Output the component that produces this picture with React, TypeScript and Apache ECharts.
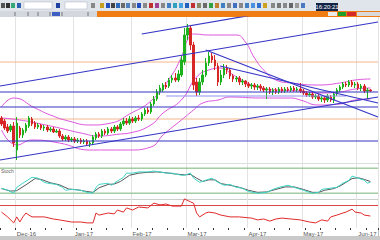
import React, { useEffect, useRef } from "react";
import * as echarts from "echarts";

// ---------- data ----------
const categoryCount = 124;
const tickIndex = [5, 24, 43, 61, 81, 99, 117];
const tickLabels = ["Dec-16", "Jan-17", "Feb-17", "Mar-17", "Apr-17", "May-17", "Jun-17"];

// [open, close, low, high]
const ohlc = [
  [82, 76, 74, 84], [79, 72, 70, 81], [73, 69, 67, 76], [70, 74, 68, 76], [74, 57, 53, 78],
  [50, 77, 40, 83], [72, 65, 62, 74], [65, 70, 62, 72], [69, 75, 67, 77], [74, 82, 72, 84],
  [81, 76, 74, 83], [77, 73, 71, 79], [73, 75, 71, 77], [75, 72, 70, 76], [72, 73, 69, 75],
  [73, 70, 68, 75], [70, 71, 68, 73], [71, 68, 67, 73], [68, 69, 67, 71], [69, 64, 62, 71],
  [64, 61, 59, 66], [61, 63, 59, 65], [63, 60, 58, 65], [60, 61, 58, 63], [61, 59, 57, 63],
  [59, 60, 57, 62], [60, 58, 56, 62], [58, 59, 56, 61], [59, 56, 54, 61], [56, 57, 53, 59],
  [57, 63, 55, 65], [62, 66, 60, 68], [66, 64, 62, 68], [64, 69, 62, 71], [69, 67, 65, 71],
  [67, 71, 65, 73], [71, 69, 67, 73], [69, 73, 67, 75], [73, 71, 69, 75], [71, 76, 69, 78],
  [76, 79, 74, 82], [79, 77, 75, 82], [77, 81, 75, 84], [81, 79, 77, 83], [79, 82, 77, 84],
  [82, 81, 79, 85], [81, 86, 79, 88], [86, 90, 84, 92], [90, 88, 86, 93], [88, 96, 86, 98],
  [96, 101, 94, 104], [101, 108, 99, 111], [108, 112, 105, 115], [110, 115, 108, 117], [115, 113, 111, 118],
  [114, 120, 112, 122], [120, 122, 117, 125], [122, 120, 118, 127], [120, 126, 118, 130], [125, 140, 123, 144],
  [138, 165, 135, 172], [165, 172, 160, 176], [172, 155, 150, 174], [155, 115, 110, 158], [118, 108, 104, 122],
  [108, 118, 105, 122], [118, 125, 115, 130], [125, 137, 123, 142], [137, 144, 134, 148], [144, 140, 137, 147],
  [140, 134, 130, 145], [134, 118, 114, 137], [118, 125, 115, 130], [125, 132, 122, 136], [132, 130, 126, 135],
  [130, 124, 121, 132], [124, 121, 118, 126], [121, 122, 118, 124], [122, 118, 115, 124], [118, 119, 115, 121],
  [119, 116, 113, 120], [116, 114, 112, 118], [114, 115, 111, 117], [115, 113, 110, 117], [113, 114, 110, 116],
  [114, 112, 109, 116], [112, 110, 108, 114], [110, 111, 101, 113], [111, 108, 106, 113], [108, 110, 105, 112],
  [110, 108, 106, 112], [108, 111, 106, 113], [111, 109, 107, 113], [109, 111, 107, 113], [111, 110, 108, 113],
  [110, 112, 108, 114], [112, 110, 108, 114], [110, 111, 108, 113], [111, 109, 107, 117], [109, 107, 105, 111],
  [107, 105, 103, 109], [105, 106, 103, 108], [106, 103, 101, 108], [103, 104, 101, 106], [104, 101, 99, 106],
  [101, 102, 98, 104], [102, 100, 97, 104], [100, 104, 98, 106], [103, 100, 98, 105], [100, 106, 97, 108],
  [106, 110, 104, 112], [110, 113, 108, 115], [113, 116, 111, 118], [116, 115, 113, 118], [115, 118, 113, 120],
  [118, 115, 113, 120], [115, 116, 112, 118], [116, 112, 110, 118], [112, 114, 109, 116], [114, 109, 107, 116],
  [109, 110, 101, 112], [110, 109, 108, 111],
];

// Bollinger bands: [bar index, price]
const bollUpper = [
  [0, 93], [4, 102], [11, 92], [16, 85], [22, 79], [29, 75], [36, 77], [42, 86], [49, 99], [55, 121],
  [59, 143], [61, 160], [63, 166], [68, 165], [77, 165], [80, 158], [83, 142], [86, 130], [90, 120],
  [95, 117], [104, 115], [111, 117], [116, 120], [121, 121],
];
const bollMiddle = [
  [0, 82], [6, 80], [13, 76], [19, 72], [26, 67], [32, 64], [39, 66], [42, 67], [49, 75], [53, 87],
  [59, 100], [64, 123], [68, 130], [72, 132], [75, 127], [80, 118], [85, 112], [91, 110], [98, 109],
  [104, 107], [111, 108], [116, 111], [121, 112],
];
const bollLower = [
  [0, 70], [5, 55], [10, 60], [19, 57], [29, 50], [36, 50], [42, 50], [49, 53], [53, 65], [59, 80],
  [63, 90], [66, 97], [71, 100], [75, 103], [85, 102], [95, 102], [98, 100], [104, 95], [111, 96],
  [116, 100], [121, 101],
];

// drawn trend lines: [[bar index, price], [bar index, price]]
const blueLines = [
  [[-0.5, 114], [123.5, 178]],
  [[46, 166], [90, 189]],
  [[-0.5, 40], [123.5, 103]],
  [[-0.5, 108], [123.5, 108]],
  [[-0.5, 93], [123.5, 93]],
  [[-0.5, 59], [123.5, 59]],
  [[67, 150], [123.5, 83]],
  [[71.7, 134], [123.5, 97]],
];
const lightBlueLines = [[[54, 104], [113, 104]]];
const orangeLevels = [138, 81];

// Stochastic
const stochK = [
  [0, 32], [2, 27], [4, 20], [5, 34], [7, 44], [10, 58], [12, 56], [14, 46], [15, 44], [18, 41],
  [20, 34], [21, 27], [23, 29], [26, 27], [28, 22], [30, 20], [31, 34], [32, 41], [35, 44], [36, 39],
  [38, 49], [40, 58], [41, 68], [43, 68], [45, 71], [48, 71], [50, 73], [52, 71], [54, 68], [56, 68],
  [59, 63], [60, 63], [62, 68], [63, 56], [65, 46], [67, 51], [69, 56], [71, 46], [73, 39], [75, 41],
  [77, 34], [79, 32], [81, 24], [84, 20], [87, 22], [89, 29], [91, 34], [94, 39], [96, 34], [99, 27],
  [101, 22], [102, 20], [104, 22], [105, 29], [108, 32], [110, 34], [112, 44], [114, 51], [115, 61],
  [117, 56], [119, 51], [120, 44], [121, 46],
];
const stochD = [
  [0, 31], [3, 25], [5, 26], [8, 40], [11, 55], [13, 53], [16, 45], [19, 40], [22, 30], [25, 28],
  [28, 24], [30, 22], [32, 33], [35, 41], [37, 42], [39, 48], [42, 63], [45, 68], [48, 70], [51, 71],
  [54, 69], [57, 66], [60, 64], [62, 65], [64, 56], [66, 48], [68, 52], [70, 52], [72, 43], [75, 39],
  [78, 34], [81, 27], [84, 22], [87, 23], [90, 29], [93, 35], [96, 35], [99, 29], [102, 22], [104, 22],
  [106, 27], [109, 31], [111, 37], [113, 46], [115, 55], [117, 57], [119, 53], [121, 48],
];
const stochLevels = [80, 20];

// RSI
const rsi = [
  [0, 53], [2, 37], [4, 17], [5, 37], [6, 20], [7, 37], [8, 50], [9, 43], [10, 37], [14, 37],
  [17, 30], [19, 27], [23, 20], [26, 20], [28, 17], [30, 17], [31, 50], [32, 43], [35, 50], [37, 47],
  [38, 60], [40, 53], [41, 67], [43, 60], [45, 70], [48, 67], [50, 83], [52, 77], [54, 80], [56, 73],
  [59, 73], [60, 97], [62, 87], [63, 83], [64, 50], [65, 37], [67, 50], [68, 53], [70, 50], [72, 43],
  [75, 37], [78, 37], [82, 33], [84, 27], [86, 30], [88, 23], [90, 30], [92, 33], [95, 30], [98, 27],
  [101, 20], [103, 17], [105, 27], [107, 23], [108, 37], [110, 43], [112, 50], [113, 53], [115, 63],
  [116, 53], [118, 50], [119, 43], [121, 40],
];
const rsiLevel = 75;

// ---------- component ----------
export default function App() {
  const ref = useRef<HTMLDivElement>(null);

  useEffect(() => {
    const el = ref.current as HTMLDivElement;
    const chart = echarts.init(el, null, { renderer: "svg" });
    const categories = Array.from({ length: categoryCount }, (_, i) => String(i));
    const isTick = (i: number) => tickIndex.includes(i);
    const full = (v: number) => [[-0.5, v], [categoryCount - 0.5, v]];

    const line = (data: any, color: string, width: number, xi: number, yi: number, z: number, smooth = false) => ({
      type: "line",
      xAxisIndex: xi,
      yAxisIndex: yi,
      data,
      symbol: "none",
      silent: true,
      smooth,
      lineStyle: { color, width },
      z,
    });

    const catAxis = (gridIndex: number, labels: boolean) => ({
      type: "category",
      gridIndex,
      data: categories,
      boundaryGap: true,
      axisLine: { show: false },
      axisTick: labels
        ? { show: true, interval: 4, length: 2, lineStyle: { color: "#333", width: 1 } }
        : { show: false },
      axisLabel: labels
        ? {
            show: true,
            interval: (i: number) => isTick(i),
            formatter: (_v: string, i: number) => {
              const k = tickIndex.indexOf(i);
              return k >= 0 ? tickLabels[k] : "";
            },
            fontSize: 6,
            color: "#555",
            margin: 3,
            align: "left",
          }
        : { show: false },
      splitLine: { show: true, interval: (i: number) => isTick(i), lineStyle: { color: "#e3e3e3", width: 1 } },
    });
    const valAxis = (gridIndex: number) => ({
      type: "value",
      gridIndex,
      min: -0.5,
      max: categoryCount - 0.5,
      show: false,
    });

    const series: any[] = [];
    orangeLevels.forEach((v) => series.push(line(full(v), "#f6b68c", 1, 3, 0, 1)));
    series.push(line(bollUpper, "#dd55dd", 1, 3, 0, 2, true));
    series.push(line(bollMiddle, "#dd55dd", 1, 3, 0, 2, true));
    series.push(line(bollLower, "#dd55dd", 1, 3, 0, 2, true));
    series.push({
      type: "candlestick",
      xAxisIndex: 0,
      yAxisIndex: 0,
      data: ohlc,
      barWidth: 2,
      silent: true,
      z: 3,
      itemStyle: { color: "#1db21d", color0: "#d62626", borderColor: "#1db21d", borderColor0: "#d62626", borderWidth: 1 },
    });
    lightBlueLines.forEach((d) => series.push(line(d, "#8f8ff2", 1.2, 3, 0, 4)));
    blueLines.forEach((d) => series.push(line(d, "#3535c6", 1.2, 3, 0, 5)));

    stochLevels.forEach((v) => series.push(line(full(v), "#76b476", 1, 4, 1, 1)));
    series.push(line(stochD, "#555555", 1, 4, 1, 2));
    series.push(line(stochK, "#3fd6c8", 1, 4, 1, 3));

    series.push(line(full(rsiLevel), "#d84848", 1, 5, 2, 1));
    series.push(line(rsi, "#e02a2a", 1, 5, 2, 2));

    const icons: Array<[number, string]> = [
      [1, "#555"], [6, "#333"], [11, "#3a7"], [17, "#3060b0"], [56, "#2040a0"], [91, "#888"],
      [100, "#c8a020"], [106, "#2050c0"], [111, "#444"], [116, "#2a6ab8"], [121, "#6a6a6a"], [126, "#5080c0"],
      [132, "#888"], [137, "#2050c0"], [143, "#888"], [149, "#c03030"], [155, "#a04090"], [161, "#888"],
      [167, "#4080c0"], [173, "#30a0c0"], [179, "#40a0e0"], [185, "#2060c0"], [191, "#c03030"], [197, "#886"],
      [203, "#6a6a6a"], [209, "#30a040"], [215, "#c08030"], [221, "#4080c0"], [227, "#888"], [233, "#4070c0"],
      [239, "#888"], [245, "#4080c0"], [251, "#4a90e0"], [257, "#3070d0"], [263, "#d0a020"], [271, "#888"],
      [277, "#777"], [283, "#888"], [289, "#666"], [295, "#999"], [301, "#4a7ac0"],
    ];

    const graphic: any[] = [
      { type: "rect", shape: { x: 0, y: 0, width: 380, height: 11 }, style: { fill: "#e0e4eb" }, silent: true },
      ...icons.map(([x, c]) => ({
        type: "rect",
        shape: { x, y: 3, width: 4, height: 5 },
        style: { fill: c },
        silent: true,
      })),
      { type: "rect", shape: { x: 24, y: 2, width: 28, height: 7 }, style: { fill: "#fff", stroke: "#a9b0c0", lineWidth: 0.5 } },
      { type: "rect", shape: { x: 65, y: 2, width: 22, height: 7 }, style: { fill: "#fff", stroke: "#a9b0c0", lineWidth: 0.5 } },
      { type: "rect", shape: { x: 316, y: 3, width: 22, height: 8 }, style: { fill: "#132449" } },
      {
        type: "text",
        x: 327,
        y: 7,
        style: { text: "16:20:21", fill: "#ffffff", fontSize: 6, fontFamily: "Liberation Sans", align: "center", verticalAlign: "middle" },
      },
      { type: "rect", shape: { x: 0, y: 11, width: 380, height: 6 }, style: { fill: "#f07d14" } },
      { type: "rect", shape: { x: 0, y: 11, width: 97, height: 6 }, style: { fill: "#d3d7de" } },
      ...[15, 28, 38, 50, 62, 88].map((x) => ({
        type: "line",
        shape: { x1: x, y1: 12, x2: x, y2: 16 },
        style: { stroke: "#777", lineWidth: 1 },
      })),
      { type: "rect", shape: { x: 52, y: 12, width: 8, height: 4 }, style: { fill: "#3d5fc4" } },
      { type: "rect", shape: { x: 328, y: 12, width: 9, height: 4 }, style: { fill: "#ececec" } },
      { type: "rect", shape: { x: 338, y: 12, width: 8, height: 4 }, style: { fill: "#1f9e2a" } },
      { type: "rect", shape: { x: 347, y: 12, width: 9, height: 4 }, style: { fill: "#d22a2a" } },
      { type: "rect", shape: { x: 357, y: 12, width: 23, height: 4 }, style: { fill: "#d9d9d9" } },
      { type: "line", shape: { x1: 0, y1: 163.5, x2: 378, y2: 163.5 }, style: { stroke: "#dddddd", lineWidth: 1 } },
      { type: "line", shape: { x1: 0, y1: 199.5, x2: 378, y2: 199.5 }, style: { stroke: "#cccccc", lineWidth: 1 } },
      { type: "line", shape: { x1: 378.5, y1: 17, x2: 378.5, y2: 236 }, style: { stroke: "#bbbbbb", lineWidth: 1 } },
      {
        type: "text",
        x: 1,
        y: 168,
        style: { text: "Stoch", fill: "#666", fontSize: 5, fontFamily: "Liberation Sans" },
      },
      { type: "rect", shape: { x: 0, y: 236, width: 380, height: 4 }, style: { fill: "#c9c9c9" } },
    ];

    chart.setOption({
      animation: false,
      backgroundColor: "#ffffff",
      textStyle: { fontFamily: "Liberation Sans" },
      grid: [
        { left: 0, right: 2, top: 17, height: 146 },
        { left: 0, right: 2, top: 164, height: 35 },
        { left: 0, right: 2, top: 198, height: 30 },
      ],
      xAxis: [catAxis(0, false), catAxis(1, false), catAxis(2, true), valAxis(0), valAxis(1), valAxis(2)],
      yAxis: [
        { type: "value", gridIndex: 0, min: 37, max: 183, show: false },
        { type: "value", gridIndex: 1, min: 6, max: 90, show: false },
        { type: "value", gridIndex: 2, min: 0, max: 100, show: false },
      ],
      series,
      graphic,
    });

    return () => chart.dispose();
  }, []);

  return <div ref={ref} style={{ position: "fixed", left: 0, top: 0, width: 380, height: 240 }} />;
}
